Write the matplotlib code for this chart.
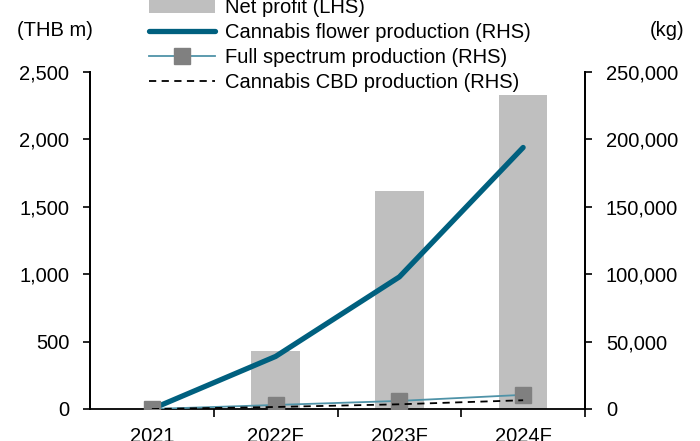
"""
Net profit (bars, LHS) with cannabis production volumes (lines, RHS)
"""

import matplotlib.pyplot as plt
from matplotlib.ticker import FuncFormatter

years = ['2021', '2022F', '2023F', '2024F']
net_profit = [0, 430, 1620, 2330]             # THB m
flower_prod = [0, 39000, 98000, 194000]        # kg
full_spectrum_prod = [0, 3000, 6000, 10500]    # kg
cbd_prod = [0, 1500, 3500, 6500]               # kg


def main():
    plt.rcParams['font.family'] = ['Liberation Sans', 'DejaVu Sans']
    fs = 14.5
    fig = plt.figure(figsize=(7, 4.41), dpi=100)
    ax = fig.add_axes([90 / 700, 32 / 441, 495 / 700, 337 / 441])
    ax2 = ax.twinx()

    x = list(range(len(years)))
    bars = ax.bar(x, net_profit, width=0.39, color='#BFBFBF',
                  label='Net profit (LHS)', zorder=1)
    l1, = ax2.plot(x, flower_prod, color='#00607F', lw=3.8,
                   solid_capstyle='round',
                   label='Cannabis flower production (RHS)')
    l2, = ax2.plot(x, full_spectrum_prod, color='#4F93A8', lw=1.3,
                   marker='s', markersize=11, markerfacecolor='#808080',
                   markeredgecolor='#808080',
                   label='Full spectrum production (RHS)')
    l3, = ax2.plot(x, cbd_prod, color='black', lw=1.3, ls=(0, (4, 3)),
                   label='Cannabis CBD production (RHS)')

    comma = FuncFormatter(lambda v, p: f'{v:,.0f}')
    ax.set_ylim(0, 2500)
    ax.set_yticks(range(0, 2501, 500))
    ax.yaxis.set_major_formatter(comma)
    ax2.set_ylim(0, 250000)
    ax2.set_yticks(range(0, 250001, 50000))
    ax2.yaxis.set_major_formatter(comma)

    ax.set_xlim(-0.5, 3.5)
    ax.set_xticks([0.5, 1.5, 2.5, 3.5])
    ax.set_xticklabels([])
    ax.set_xticks(x, minor=True)
    ax.set_xticklabels(years, minor=True)
    ax.tick_params(axis='x', which='major', length=6, width=1.2,
                   direction='out')
    ax.tick_params(axis='x', which='minor', length=0, pad=13,
                   labelsize=fs)
    ax.tick_params(axis='y', length=5, width=1.2, pad=10, labelsize=fs)
    ax2.tick_params(axis='y', length=5, width=1.2, pad=10, labelsize=fs)

    for a in (ax, ax2):
        a.spines['top'].set_visible(False)
        for s in ('left', 'right', 'bottom'):
            a.spines[s].set_linewidth(1.3)
    ax2.spines['bottom'].set_visible(False)

    fig.text(55 / 700, 1 - 30 / 441, '(THB m)', ha='center', va='center',
             fontsize=fs)
    fig.text(667 / 700, 1 - 30 / 441, '(kg)', ha='center', va='center',
             fontsize=fs)

    fig.legend([bars, l1, l2, l3],
               [h.get_label() for h in (bars, l1, l2, l3)],
               loc='upper left', bbox_to_anchor=(149 / 700, 1.004),
               frameon=False, fontsize=fs, borderpad=0, borderaxespad=0,
               labelspacing=0.3, handlelength=3.3, handletextpad=0.45)

    fig.savefig('out.png', dpi=100)


if __name__ == '__main__':
    main()
